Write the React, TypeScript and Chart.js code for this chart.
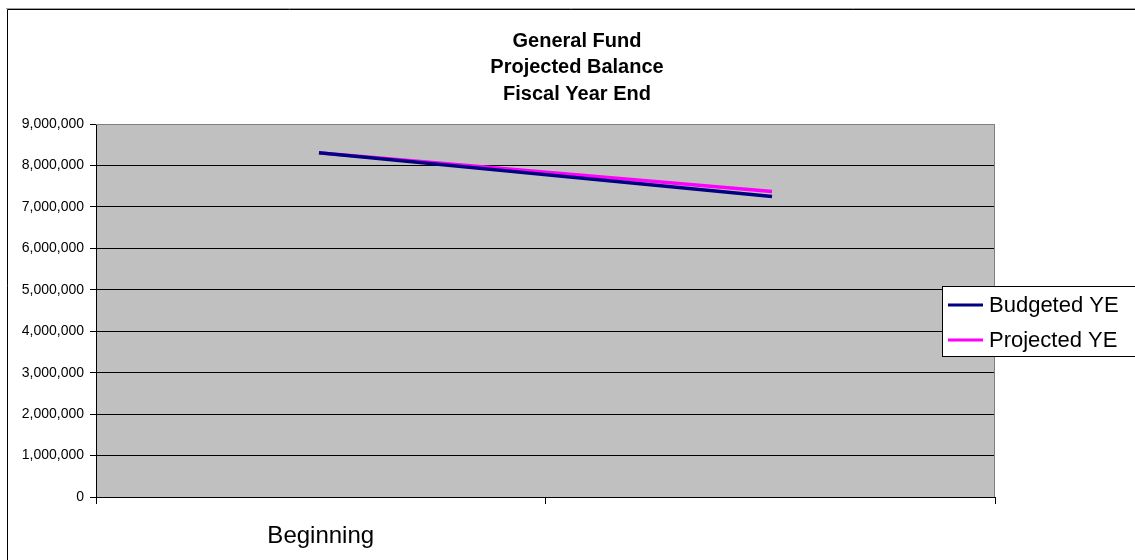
import { useEffect, useRef } from "react";
import { Chart, registerables } from "chart.js";

Chart.register(...registerables);

// Chart content
const categories = ["Beginning", ""];
const budgetedYE = [8300000, 7255000];
const projectedYE = [8300000, 7375000];
const seriesLabels = ["Budgeted YE", "Projected YE"];
const seriesColors = ["#000080", "#FF00FF"];
const titleLines = ["General Fund", "Projected Balance", "Fiscal Year End"];
const yMin = 0;
const yMax = 9000000;
const yStep = 1000000;

const FONT = "'Liberation Sans', Arial, Helvetica, sans-serif";

// White page, outer frame and grey plot background
const backgroundPlugin = {
  id: "backgroundPlugin",
  beforeDraw(chart: any) {
    const { ctx, chartArea } = chart;
    ctx.save();
    ctx.fillStyle = "#ffffff";
    ctx.fillRect(0, 0, chart.width, chart.height);
    ctx.strokeStyle = "#a0a0a0";
    ctx.lineWidth = 1;
    ctx.beginPath();
    ctx.moveTo(6, 8.5);
    ctx.lineTo(chart.width, 8.5);
    ctx.stroke();
    ctx.strokeStyle = "#000000";
    ctx.beginPath();
    ctx.moveTo(7.5, chart.height + 2);
    ctx.lineTo(7.5, 9.5);
    ctx.lineTo(chart.width + 2, 9.5);
    ctx.stroke();
    ctx.fillStyle = "#C0C0C0";
    ctx.fillRect(chartArea.left, chartArea.top, chartArea.right - chartArea.left, chartArea.bottom - chartArea.top);
    ctx.restore();
  },
  beforeDatasetsDraw(chart: any) {
    const { ctx, chartArea } = chart;
    ctx.save();
    ctx.strokeStyle = "#808080";
    ctx.lineWidth = 1;
    ctx.beginPath();
    ctx.moveTo(chartArea.left, chartArea.top + 0.5);
    ctx.lineTo(chartArea.right - 0.5, chartArea.top + 0.5);
    ctx.lineTo(chartArea.right - 0.5, chartArea.bottom);
    ctx.stroke();
    ctx.restore();
  },
};

// Three-line bold heading
const headingPlugin = {
  id: "headingPlugin",
  afterDraw(chart: any) {
    const { ctx } = chart;
    ctx.save();
    ctx.fillStyle = "#000000";
    ctx.font = `bold 20px ${FONT}`;
    ctx.textAlign = "center";
    ctx.textBaseline = "alphabetic";
    const baselines = [46.5, 73, 99.5];
    titleLines.forEach((line, i) => ctx.fillText(line, 577, baselines[i]));
    ctx.restore();
  },
};

// Boxed legend sitting over the right edge of the plot
const boxLegendPlugin = {
  id: "boxLegendPlugin",
  afterDraw(chart: any) {
    const { ctx } = chart;
    const left = 942;
    const top = 286;
    const bottom = 356;
    ctx.save();
    ctx.fillStyle = "#ffffff";
    ctx.fillRect(left, top, chart.width - left + 5, bottom - top);
    ctx.strokeStyle = "#000000";
    ctx.lineWidth = 1;
    ctx.strokeRect(left + 0.5, top + 0.5, chart.width - left + 5, bottom - top);
    const rows = [305, 340];
    chart.data.datasets.forEach((ds: any, i: number) => {
      const y = rows[i];
      ctx.strokeStyle = ds.borderColor;
      ctx.lineWidth = 3;
      ctx.beginPath();
      ctx.moveTo(948, y);
      ctx.lineTo(983, y);
      ctx.stroke();
      ctx.fillStyle = "#000000";
      ctx.font = `22px ${FONT}`;
      ctx.textAlign = "left";
      ctx.textBaseline = "middle";
      ctx.fillText(ds.label, 989, y + 1);
    });
    ctx.restore();
  },
};

export default function App() {
  const canvasRef = useRef<HTMLCanvasElement | null>(null);

  useEffect(() => {
    if (!canvasRef.current) return;
    const chart = new Chart(canvasRef.current, {
      type: "line",
      data: {
        labels: categories,
        datasets: [
          {
            label: seriesLabels[0],
            data: budgetedYE,
            borderColor: seriesColors[0],
            backgroundColor: seriesColors[0],
            borderWidth: 3.5,
            borderCapStyle: "square",
            pointRadius: 0,
            tension: 0,
          },
          {
            label: seriesLabels[1],
            data: projectedYE,
            borderColor: seriesColors[1],
            backgroundColor: seriesColors[1],
            borderWidth: 3.5,
            borderCapStyle: "square",
            pointRadius: 0,
            tension: 0,
          },
        ],
      },
      options: {
        animation: false,
        responsive: false,
        layout: { padding: { left: 0, top: 124, right: 140, bottom: 0 } },
        plugins: {
          legend: { display: false },
          title: { display: false },
          tooltip: { enabled: false },
        },
        scales: {
          x: {
            type: "category",
            offset: true,
            grid: {
              display: true,
              offset: true,
              drawOnChartArea: false,
              drawTicks: true,
              tickLength: 7,
              color: "#000000",
              tickColor: "#000000",
            },
            border: { display: true, color: "#000000", width: 1 },
            ticks: {
              color: "#000000",
              font: { family: FONT, size: 24 },
              padding: 18,
              maxRotation: 0,
              autoSkip: false,
            },
            afterFit(scale: any) {
              scale.height = 63;
            },
          },
          y: {
            min: yMin,
            max: yMax,
            grid: {
              color: (c: any) => (c.tick && c.tick.value === yMax ? "#808080" : "#000000"),
              tickColor: "#000000",
              tickLength: 6,
              lineWidth: 1,
            },
            border: { display: true, color: "#000000", width: 1 },
            ticks: {
              stepSize: yStep,
              color: "#000000",
              font: { family: FONT, size: 14 },
              padding: 6,
              callback: (v: any) => Number(v).toLocaleString("en-US"),
            },
            afterFit(scale: any) {
              scale.width = 96;
            },
          },
        },
      },
      plugins: [backgroundPlugin, headingPlugin, boxLegendPlugin],
    });
    return () => chart.destroy();
  }, []);

  return (
    <div style={{ position: "fixed", left: 0, top: 0, width: 1135, height: 560 }}>
      <canvas ref={canvasRef} width={1135} height={560} style={{ display: "block" }} />
    </div>
  );
}
